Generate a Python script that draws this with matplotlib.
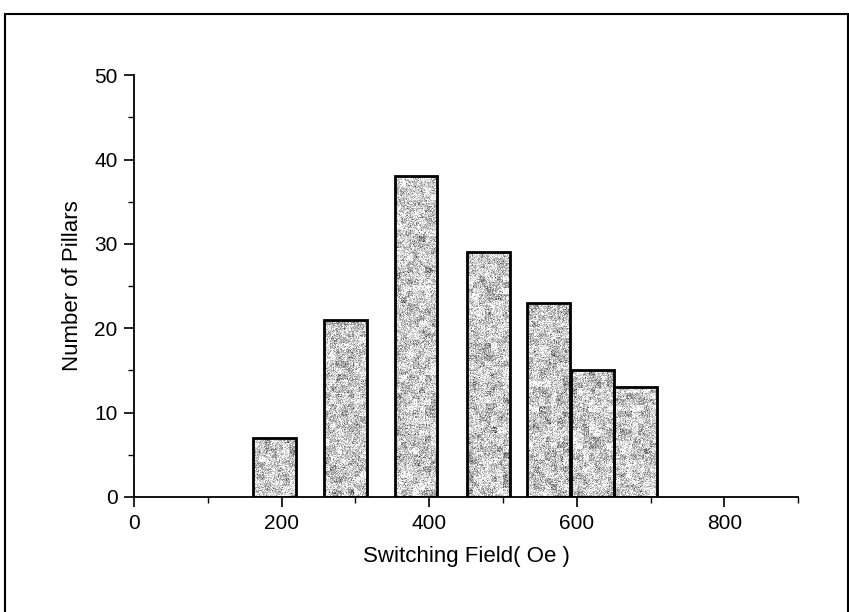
import numpy as np
import matplotlib
matplotlib.use("Agg")
import matplotlib.pyplot as plt
from matplotlib.patches import Rectangle
from matplotlib.ticker import MultipleLocator

plt.rcParams['font.family'] = ['Liberation Sans', 'DejaVu Sans']

# histogram of pillar switching fields
field_centers = [190, 287, 382, 480, 562, 621, 680]   # Oe
pillar_counts = [7, 21, 38, 29, 23, 15, 13]
bar_width = 58

fig = plt.figure(figsize=(8.49, 6.12), dpi=100)
ax = fig.add_axes([0.158, 0.188, 0.782, 0.689])

bars = ax.bar(field_centers, pillar_counts, width=bar_width,
              facecolor='none', edgecolor='black', linewidth=2.0, zorder=3)

# speckled grey fill, roughly one noise cell per pixel, with darker clumps
rng = np.random.default_rng(7)
for b in bars:
    ny = max(int(b.get_height() * 8.4), 6)
    nx = 43
    fine = rng.normal(0.0, 0.16, size=(ny, nx))
    cy, cx = ny // 6 + 1, nx // 6 + 1
    coarse = np.kron(rng.normal(0.0, 0.08, size=(cy, cx)), np.ones((6, 6)))[:ny, :nx]
    tex = np.clip(0.80 + fine + coarse, 0, 1)
    im = ax.imshow(tex, cmap='gray', vmin=0, vmax=1, aspect='auto',
                   extent=[b.get_x(), b.get_x() + b.get_width(), 0, b.get_height()],
                   interpolation='nearest', zorder=2)
    im.set_clip_path(b)

ax.set_xlim(0, 900)
ax.set_ylim(0, 50)
ax.xaxis.set_major_locator(MultipleLocator(200))
ax.xaxis.set_minor_locator(MultipleLocator(100))
ax.yaxis.set_major_locator(MultipleLocator(10))
ax.yaxis.set_minor_locator(MultipleLocator(5))
ax.set_xticks([0, 200, 400, 600, 800])

ax.spines['top'].set_visible(False)
ax.spines['right'].set_visible(False)
for s in ('left', 'bottom'):
    ax.spines[s].set_linewidth(1.3)
ax.tick_params(which='major', direction='out', length=7, width=1.2, labelsize=15, pad=5)
ax.tick_params(which='minor', direction='out', length=4, width=1.0)

ax.set_xlabel('Switching Field( Oe )', fontsize=16, labelpad=10)
ax.set_ylabel('Number of Pillars', fontsize=16, labelpad=8)

# outer frame around the figure
fig.patches.append(Rectangle((5 / 849, -0.05), 843 / 849, 1.05 - 14 / 612,
                             transform=fig.transFigure, fill=False,
                             edgecolor='black', linewidth=1.5))

fig.savefig('out.png', dpi=100, facecolor='white')
